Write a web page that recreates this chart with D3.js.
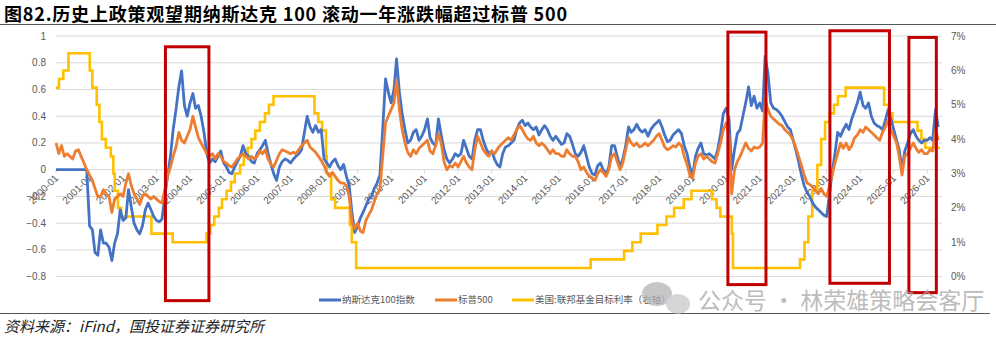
<!DOCTYPE html>
<html>
<head>
<meta charset="utf-8">
<script src="https://cdn.jsdelivr.net/npm/d3@7"></script>
<style>
  body { margin: 0; background: #fff; }
  svg { display: block; font-family: "Liberation Sans", Arial, sans-serif; }
</style>
</head>
<body>
<svg id="chart" width="996" height="340"></svg>
<script>
// monthly values, first point = 2000-01
const startMonth = "2000-01";

// 纳斯达克100 rolling 1y change
const nasdaq100 = [
  0, 0, 0, 0, 0, 0, 0, 0, 0, 0, 0, 0,                                   // 2000
  -0.42, -0.45, -0.62, -0.64, -0.45, -0.55, -0.55, -0.58, -0.68, -0.55, -0.48, -0.3, // 2001
  -0.38, -0.36, -0.15, -0.28, -0.4, -0.45, -0.48, -0.42, -0.3, -0.25, -0.3, -0.35,   // 2002
  -0.38, -0.39, -0.37, -0.2, -0.05, 0.1, 0.3, 0.45, 0.62, 0.74, 0.48, 0.4,           // 2003
  0.5, 0.57, 0.46, 0.48, 0.4, 0.28, 0.12, 0.05, 0.08, 0.06, 0.1, 0.14,               // 2004
  0.05, 0.02, -0.02, -0.03, 0.02, 0.06, 0.1, 0.18, 0.12, 0.1, 0.06, 0.05,            // 2005
  0.12, 0.15, 0.18, 0.22, 0.12, 0.04, -0.03, -0.08, 0.02, 0.06, 0.08, 0.07,          // 2006
  0.05, 0.08, 0.1, 0.12, 0.15, 0.28, 0.4, 0.32, 0.28, 0.33, 0.28, 0.3,               // 2007
  0.08, 0.05, 0.02, 0.06, 0.08, 0.03, 0.0, 0.04, -0.05, -0.12, -0.33, -0.47,         // 2008
  -0.42, -0.36, -0.32, -0.27, -0.22, -0.2, -0.14, -0.1, -0.04, 0.3, 0.68, 0.58,      // 2009
  0.5, 0.6, 0.83, 0.58, 0.42, 0.3, 0.2, 0.22, 0.28, 0.3, 0.22, 0.25,                 // 2010
  0.3, 0.38, 0.24, 0.2, 0.18, 0.38, 0.26, 0.15, 0.08, 0.05, 0.08, 0.12,              // 2011
  0.1, 0.12, 0.22, 0.16, 0.1, 0.08, 0.22, 0.3, 0.3, 0.22, 0.16, 0.12,                // 2012
  0.14, 0.08, 0.04, 0.02, 0.12, 0.17, 0.18, 0.2, 0.22, 0.3, 0.35, 0.37,              // 2013
  0.33, 0.35, 0.32, 0.3, 0.32, 0.26, 0.3, 0.33, 0.3, 0.25, 0.22, 0.25,               // 2014
  0.22, 0.19, 0.2, 0.27, 0.25, 0.19, 0.12, 0.1, 0.13, 0.18, 0.1, 0.02,               // 2015
  -0.03, -0.04, 0.03, 0.05, 0.0, -0.03, 0.02, 0.18, 0.18, 0.1, 0.02, 0.08,           // 2016
  0.18, 0.32, 0.28, 0.3, 0.34, 0.3, 0.28, 0.3, 0.25, 0.3, 0.33, 0.35,                // 2017
  0.37, 0.32, 0.26, 0.21, 0.22, 0.26, 0.28, 0.3, 0.27, 0.18, 0.12, 0.02,             // 2018
  -0.04, 0.1, 0.16, 0.2, 0.12, 0.11, 0.12, 0.1, 0.08, 0.15, 0.27, 0.42,              // 2019
  0.46, 0.38, 0.0, 0.15, 0.27, 0.3, 0.4, 0.5, 0.62, 0.48, 0.55, 0.46,                // 2020
  0.5, 0.44, 0.85, 0.72, 0.5, 0.46, 0.45, 0.43, 0.4, 0.36, 0.32, 0.3,                // 2021
  0.22, 0.14, 0.06, -0.04, -0.12, -0.17, -0.2, -0.25, -0.28, -0.3, -0.32, -0.34,     // 2022
  -0.35, -0.18, -0.02, 0.12, 0.28, 0.25, 0.3, 0.34, 0.3, 0.38, 0.44, 0.5,            // 2023
  0.58, 0.48, 0.46, 0.5, 0.4, 0.35, 0.33, 0.32, 0.3, 0.37, 0.45, 0.38,               // 2024
  0.3, 0.22, 0.15, 0.0, 0.14, 0.2, 0.27, 0.3, 0.25, 0.22, 0.2, 0.22,                 // 2025
  0.22, 0.24, 0.22, 0.45, 0.32                                                        // 2026
];

// 标普500 rolling 1y change
const sp500 = [
  0.2, 0.12, 0.18, 0.1, 0.12, 0.1, 0.08, 0.14, 0.15, 0.1, 0.05, 0.0,                 // 2000
  -0.04, -0.08, -0.14, -0.2, -0.2, -0.15, -0.18, -0.2, -0.32, -0.22, -0.2, -0.18,    // 2001
  -0.2, -0.1, -0.03, -0.12, -0.18, -0.22, -0.26, -0.2, -0.18, -0.2, -0.22, -0.2,     // 2002
  -0.22, -0.24, -0.25, -0.15, -0.05, 0.02, 0.1, 0.17, 0.28, 0.22, 0.2, 0.25,         // 2003
  0.3, 0.4, 0.32, 0.24, 0.2, 0.16, 0.12, 0.1, 0.12, 0.08, 0.12, 0.1,                 // 2004
  0.06, 0.05, 0.03, 0.02, 0.05, 0.08, 0.1, 0.12, 0.1, 0.08, 0.1, 0.08,               // 2005
  0.1, 0.14, 0.12, 0.15, 0.08, 0.04, 0.02, 0.07, 0.12, 0.15, 0.14, 0.13,             // 2006
  0.12, 0.13, 0.12, 0.15, 0.18, 0.2, 0.22, 0.17, 0.15, 0.13, 0.1, 0.07,              // 2007
  0.03, -0.02, -0.05, -0.02, -0.05, -0.08, -0.1, -0.1, -0.12, -0.2, -0.4, -0.44,     // 2008
  -0.4, -0.46, -0.47, -0.38, -0.34, -0.3, -0.24, -0.18, -0.15, 0.1, 0.35, 0.4,       // 2009
  0.45, 0.5, 0.67, 0.45, 0.3, 0.2, 0.13, 0.1, 0.15, 0.12, 0.16, 0.18,                // 2010
  0.2, 0.22, 0.14, 0.12, 0.18, 0.27, 0.2, 0.06, 0.0, 0.03, 0.02, 0.05,               // 2011
  0.02, 0.06, 0.1, 0.05, 0.02, 0.0, 0.15, 0.25, 0.2, 0.15, 0.12, 0.1,                // 2012
  0.14, 0.12, 0.15, 0.18, 0.2, 0.22, 0.24, 0.22, 0.26, 0.3, 0.33, 0.3,               // 2013
  0.26, 0.23, 0.22, 0.25, 0.2, 0.18, 0.2, 0.18, 0.15, 0.12, 0.15, 0.12,              // 2014
  0.12, 0.1, 0.1, 0.15, 0.12, 0.1, 0.1, 0.06, 0.0, 0.02, -0.02, -0.05,               // 2015
  -0.06, -0.08, -0.03, 0.0, -0.02, -0.05, 0.0, 0.1, 0.12, 0.06, 0.0, 0.05,           // 2016
  0.15, 0.24, 0.2, 0.18, 0.2, 0.17, 0.18, 0.2, 0.18, 0.2, 0.22, 0.25,                // 2017
  0.27, 0.22, 0.17, 0.15, 0.16, 0.18, 0.17, 0.2, 0.18, 0.1, 0.04, -0.04,             // 2018
  -0.06, 0.05, 0.1, 0.12, 0.08, 0.1, 0.08, 0.06, 0.05, 0.12, 0.2, 0.3,               // 2019
  0.35, 0.25, -0.18, 0.0, 0.06, 0.1, 0.15, 0.2, 0.16, 0.14, 0.17, 0.16,              // 2020
  0.17, 0.2, 0.52, 0.45, 0.4, 0.38, 0.36, 0.34, 0.33, 0.3, 0.28, 0.26,               // 2021
  0.22, 0.16, 0.1, 0.03, -0.04, -0.1, -0.11, -0.13, -0.16, -0.18, -0.14, -0.18,      // 2022
  -0.2, -0.12, -0.04, 0.05, 0.12, 0.2, 0.16, 0.2, 0.15, 0.18, 0.24, 0.26,            // 2023
  0.3, 0.28, 0.32, 0.3, 0.28, 0.26, 0.24, 0.22, 0.28, 0.32, 0.37, 0.3,               // 2024
  0.25, 0.2, 0.1, -0.04, 0.1, 0.12, 0.16, 0.2, 0.16, 0.13, 0.15, 0.12,               // 2025
  0.12, 0.15, 0.14, 0.3, 0.22                                                         // 2026
];

// 美国:联邦基金目标利率 (upper bound, %), step changes
const fedDates = [
  "2000-01-01", "2000-02-02", "2000-03-21", "2000-05-16", "2001-01-03", "2001-01-31",
  "2001-03-20", "2001-04-18", "2001-05-15", "2001-06-27", "2001-08-21", "2001-09-17",
  "2001-10-02", "2001-11-06", "2001-12-11", "2002-11-06", "2003-06-25", "2004-06-30",
  "2004-08-10", "2004-09-21", "2004-11-10", "2004-12-14", "2005-02-02", "2005-03-22",
  "2005-05-03", "2005-06-30", "2005-08-09", "2005-09-20", "2005-11-01", "2005-12-13",
  "2006-01-31", "2006-03-28", "2006-05-10", "2006-06-29", "2007-09-18", "2007-10-31",
  "2007-12-11", "2008-01-22", "2008-01-30", "2008-03-18", "2008-04-30", "2008-10-08",
  "2008-10-29", "2008-12-16", "2015-12-16", "2016-12-14", "2017-03-15", "2017-06-14",
  "2017-12-13", "2018-03-21", "2018-06-13", "2018-09-26", "2018-12-19", "2019-07-31",
  "2019-09-18", "2019-10-30", "2020-03-03", "2020-03-15", "2022-03-16", "2022-05-04",
  "2022-06-15", "2022-07-27", "2022-09-21", "2022-11-02", "2022-12-14", "2023-02-01",
  "2023-03-22", "2023-05-03", "2023-07-26", "2024-09-18", "2024-11-07", "2024-12-18",
  "2025-09-17", "2025-10-29", "2025-12-10", "2026-05-20"
];
const fedRates = [
  5.5, 5.75, 6.0, 6.5, 6.0, 5.5,
  5.0, 4.5, 4.0, 3.75, 3.5, 3.0,
  2.5, 2.0, 1.75, 1.25, 1.0, 1.25,
  1.5, 1.75, 2.0, 2.25, 2.5, 2.75,
  3.0, 3.25, 3.5, 3.75, 4.0, 4.25,
  4.5, 4.75, 5.0, 5.25, 4.75, 4.5,
  4.25, 3.5, 3.0, 2.25, 2.0, 1.5,
  1.0, 0.25, 0.5, 0.75, 1.0, 1.25,
  1.5, 1.75, 2.0, 2.25, 2.5, 2.25,
  2.0, 1.75, 1.25, 0.25, 0.5, 1.0,
  1.75, 2.5, 3.25, 4.0, 4.5, 4.75,
  5.0, 5.25, 5.5, 5.0, 4.75, 4.5,
  4.25, 4.0, 3.75, 3.75
];

const yearLabels = d3.range(2000, 2027).map(y => `${y}-01`);
const leftTicks = [1, 0.8, 0.6, 0.4, 0.2, 0, -0.2, -0.4, -0.6, -0.8];
const rightTicks = [0, 0.01, 0.02, 0.03, 0.04, 0.05, 0.06, 0.07];

// highlighted "观望期" windows: [from, to, top, bottom] in chart units
const boxFrom = ["2003-04-08", "2020-01-20", "2023-02-05", "2025-06-15"];
const boxTo = ["2004-07-25", "2021-03-10", "2024-11-15", "2026-04-10"];
const boxTop = [0.92, 1.03, 1.04, 0.99];
const boxBottom = [-0.98, -0.86, -0.85, -0.92];

const seriesNames = ["纳斯达克100指数", "标普500", "美国:联邦基金目标利率（右轴）"];
const colors = ["#4472C4", "#ED7D31", "#FFC000"];

const svg = d3.select("#chart");
const parse = d3.timeParse("%Y-%m-%d");
const parseMonth = d3.timeParse("%Y-%m");
const t0 = parseMonth(startMonth);
const monthDate = i => d3.timeMonth.offset(t0, i);

const x = d3.scaleTime()
  .domain([parse("2000-01-01"), parse("2026-05-20")])
  .range([56, 940]);
const y = d3.scaleLinear().domain([-0.8, 1]).range([276.6, 36.1]);
const yR = d3.scaleLinear().domain([0, 0.07]).range([276.6, 36.1]);

// gridlines
svg.append("g")
  .selectAll("line")
  .data(leftTicks)
  .join("line")
  .attr("x1", 56).attr("x2", 942)
  .attr("y1", d => y(d)).attr("y2", d => y(d))
  .attr("stroke", "#d9d9d9")
  .attr("stroke-width", 1);

// left axis labels
svg.append("g")
  .selectAll("text")
  .data(leftTicks)
  .join("text")
  .attr("x", 46)
  .attr("y", d => y(d))
  .attr("dy", "0.35em")
  .attr("text-anchor", "end")
  .attr("font-size", 10)
  .attr("fill", "#595959")
  .text(d => d3.format("")(d));

// right axis labels
svg.append("g")
  .selectAll("text")
  .data(rightTicks)
  .join("text")
  .attr("x", 951)
  .attr("y", d => yR(d))
  .attr("dy", "0.35em")
  .attr("font-size", 10)
  .attr("fill", "#595959")
  .text(d => d3.format(".0%")(d));

// x ticks + rotated labels on the zero line
const xg = svg.append("g");
xg.selectAll("line")
  .data(yearLabels)
  .join("line")
  .attr("x1", d => x(parseMonth(d))).attr("x2", d => x(parseMonth(d)))
  .attr("y1", y(0)).attr("y2", y(0) + 4)
  .attr("stroke", "#d9d9d9");
xg.selectAll("text")
  .data(yearLabels)
  .join("text")
  .attr("transform", d => `translate(${x(parseMonth(d)) + 3},${y(0) + 9}) rotate(-45)`)
  .attr("text-anchor", "end")
  .attr("font-size", 10)
  .attr("fill", "#595959")
  .text(d => d);

// lines
const lineLeft = d3.line()
  .x((d, i) => x(monthDate(i)))
  .y(d => y(d));

const fedData = fedDates.map((d, i) => ({ date: parse(d), value: fedRates[i] / 100 }));
const lineFed = d3.line()
  .curve(d3.curveStepAfter)
  .x(d => x(d.date))
  .y(d => yR(d.value));

svg.append("path")
  .attr("d", lineFed(fedData))
  .attr("fill", "none")
  .attr("stroke", colors[2])
  .attr("stroke-width", 2.6);

svg.append("path")
  .attr("d", lineLeft(nasdaq100))
  .attr("fill", "none")
  .attr("stroke", colors[0])
  .attr("stroke-width", 2.8)
  .attr("stroke-linejoin", "round");

svg.append("path")
  .attr("d", lineLeft(sp500))
  .attr("fill", "none")
  .attr("stroke", colors[1])
  .attr("stroke-width", 2.8)
  .attr("stroke-linejoin", "round");

// red boxes
svg.append("g")
  .selectAll("rect")
  .data(boxFrom)
  .join("rect")
  .attr("x", (d, i) => x(parse(d)))
  .attr("y", (d, i) => y(boxTop[i]))
  .attr("width", (d, i) => x(parse(boxTo[i])) - x(parse(d)))
  .attr("height", (d, i) => y(boxBottom[i]) - y(boxTop[i]))
  .attr("fill", "none")
  .attr("stroke", "#C00000")
  .attr("stroke-width", 3);

// legend
const legendX = [319, 435, 512];
const lg = svg.append("g")
  .selectAll("g")
  .data(seriesNames)
  .join("g")
  .attr("transform", (d, i) => `translate(${legendX[i]},300)`);
lg.append("line")
  .attr("x1", 0).attr("x2", 22)
  .attr("stroke", (d, i) => colors[i])
  .attr("stroke-width", 3);
lg.append("text")
  .attr("x", 23)
  .attr("dy", "0.35em")
  .attr("font-size", 9.5)
  .attr("font-family", "'Noto Sans CJK SC', sans-serif")
  .attr("fill", "#595959")
  .text(d => d);

// title + rules
svg.append("text")
  .attr("x", 4).attr("y", 21)
  .attr("font-size", 18)
  .attr("letter-spacing", 0.8)
  .attr("font-weight", "bold")
  .attr("font-family", "'Noto Sans CJK SC', sans-serif")
  .attr("fill", "#000")
  .text("图82.历史上政策观望期纳斯达克 100 滚动一年涨跌幅超过标普 500");
svg.append("line")
  .attr("x1", 0).attr("x2", 996).attr("y1", 24.5).attr("y2", 24.5)
  .attr("stroke", "#555").attr("stroke-width", 1);
svg.append("line")
  .attr("x1", 0).attr("x2", 990).attr("y1", 313.5).attr("y2", 313.5)
  .attr("stroke", "#555").attr("stroke-width", 1);

// watermark
const wm = svg.append("g").attr("opacity", 0.75);
wm.append("ellipse").attr("cx", 657).attr("cy", 294).attr("rx", 15).attr("ry", 12).attr("fill", "#b5b5b5");
wm.append("ellipse").attr("cx", 678).attr("cy", 304).attr("rx", 12).attr("ry", 10).attr("fill", "#c8c8c8");
wm.append("text")
  .attr("x", 698).attr("y", 309)
  .attr("font-size", 23)
  .attr("font-family", "'Noto Sans CJK SC', sans-serif")
  .attr("fill", "#a6a6a6")
  .text("公众号 · 林荣雄策略会客厅");

// source
svg.append("text")
  .attr("x", 4).attr("y", 332)
  .attr("font-size", 15)
  .attr("font-style", "italic")
  .attr("font-family", "'Noto Sans CJK SC', sans-serif")
  .attr("fill", "#222")
  .text("资料来源：iFind，国投证券证券研究所");
</script>
</body>
</html>
